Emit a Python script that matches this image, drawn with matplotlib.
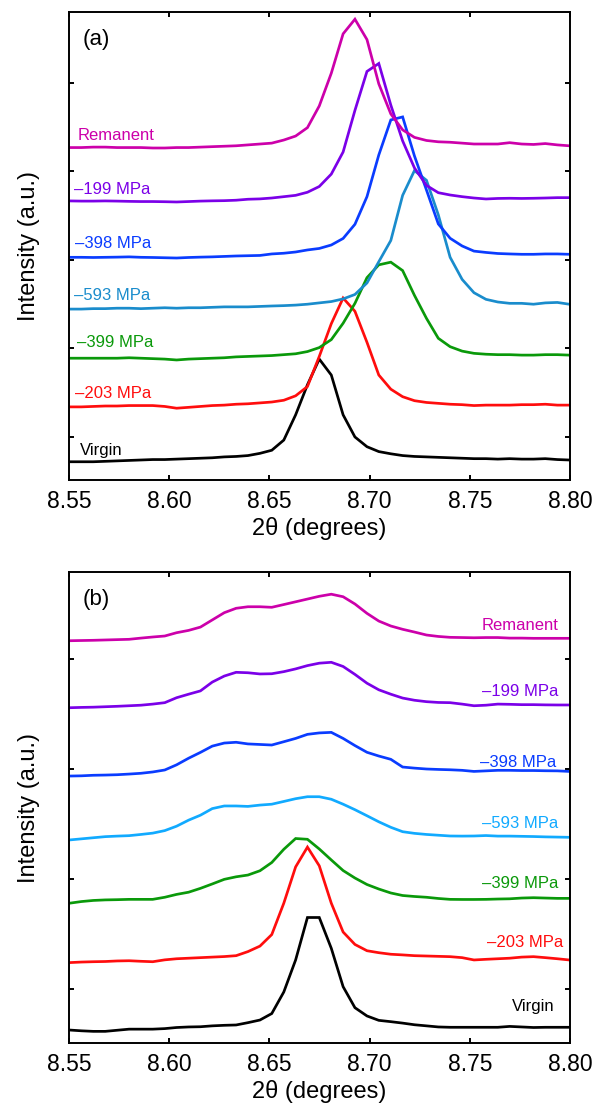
import matplotlib
matplotlib.use("Agg")
import matplotlib.pyplot as plt

plt.rcParams['font.family'] = ['Liberation Sans', 'DejaVu Sans']

# 2-theta sampling grid (degrees)
two_theta = [8.5443, 8.5503, 8.5562, 8.5621, 8.5681, 8.5740, 8.5800, 8.5859, 8.5918,
             8.5978, 8.6037, 8.6097, 8.6156, 8.6215, 8.6275, 8.6334, 8.6393, 8.6453,
             8.6512, 8.6572, 8.6631, 8.6690, 8.6749, 8.6809, 8.6868, 8.6927, 8.6987,
             8.7046, 8.7106, 8.7165, 8.7224, 8.7284, 8.7343, 8.7402, 8.7462, 8.7521,
             8.7581, 8.7640, 8.7699, 8.7759, 8.7818, 8.7877, 8.7937, 8.7996, 8.8056]

labels = ['Virgin', '\u2013203 MPa', '\u2013399 MPa', '\u2013593 MPa',
          '\u2013398 MPa', '\u2013199 MPa', 'Remanent']

# panel (a), offset intensities (a.u.)
virgin_a = [0.72, 0.72, 0.72, 0.72, 0.725, 0.73, 0.735, 0.74, 0.745, 0.745, 0.75, 0.755,
            0.76, 0.765, 0.775, 0.78, 0.79, 0.815, 0.85, 0.965, 1.25, 1.59, 1.88, 1.70,
            1.25, 1.00, 0.89, 0.835, 0.81, 0.79, 0.78, 0.775, 0.77, 0.765, 0.76, 0.755,
            0.755, 0.75, 0.755, 0.75, 0.75, 0.755, 0.745, 0.74, 0.74]
m203_a = [1.34, 1.34, 1.34, 1.345, 1.35, 1.35, 1.355, 1.355, 1.355, 1.345, 1.325, 1.335,
          1.345, 1.355, 1.36, 1.37, 1.375, 1.385, 1.395, 1.415, 1.465, 1.57, 1.91, 2.28,
          2.57, 2.42, 2.07, 1.70, 1.54, 1.455, 1.41, 1.39, 1.38, 1.37, 1.365, 1.355,
          1.36, 1.36, 1.36, 1.365, 1.365, 1.37, 1.36, 1.36, 1.36]
m399_a = [1.89, 1.89, 1.89, 1.89, 1.89, 1.89, 1.895, 1.89, 1.885, 1.88, 1.87, 1.88,
          1.885, 1.89, 1.895, 1.905, 1.91, 1.915, 1.92, 1.93, 1.94, 1.965, 2.01, 2.10,
          2.285, 2.51, 2.80, 2.945, 2.975, 2.88, 2.60, 2.34, 2.115, 2.02, 1.97, 1.945,
          1.935, 1.93, 1.93, 1.925, 1.925, 1.93, 1.93, 1.925, 1.925]
m593_a = [2.445, 2.445, 2.445, 2.45, 2.45, 2.455, 2.455, 2.45, 2.455, 2.46, 2.455, 2.46,
          2.46, 2.465, 2.47, 2.47, 2.47, 2.475, 2.48, 2.484, 2.49, 2.50, 2.515, 2.53,
          2.56, 2.61, 2.74, 2.98, 3.22, 3.73, 4.01, 3.90, 3.51, 3.03, 2.78, 2.63,
          2.555, 2.525, 2.51, 2.51, 2.50, 2.515, 2.52, 2.50, 2.50]
m398_a = [3.03, 3.03, 3.03, 3.028, 3.03, 3.032, 3.035, 3.03, 3.028, 3.025, 3.022, 3.028,
          3.032, 3.035, 3.04, 3.045, 3.048, 3.051, 3.068, 3.076, 3.09, 3.113, 3.13, 3.169,
          3.243, 3.403, 3.715, 4.186, 4.582, 4.616, 4.175, 3.79, 3.407, 3.245, 3.158, 3.10,
          3.085, 3.073, 3.068, 3.064, 3.064, 3.068, 3.068, 3.064, 3.064]
m199_a = [3.667, 3.667, 3.665, 3.665, 3.667, 3.665, 3.662, 3.66, 3.66, 3.658, 3.655, 3.66,
          3.665, 3.668, 3.67, 3.675, 3.686, 3.69, 3.70, 3.715, 3.73, 3.765, 3.83, 3.97,
          4.22, 4.69, 5.13, 5.22, 4.75, 4.345, 4.04, 3.842, 3.76, 3.734, 3.715, 3.70,
          3.689, 3.695, 3.697, 3.695, 3.697, 3.70, 3.704, 3.704, 3.704]
remanent_a = [4.275, 4.27, 4.27, 4.275, 4.275, 4.27, 4.27, 4.27, 4.265, 4.265, 4.27, 4.27,
              4.275, 4.28, 4.285, 4.29, 4.30, 4.31, 4.32, 4.355, 4.40, 4.495, 4.74, 5.11,
              5.555, 5.72, 5.49, 4.99, 4.65, 4.47, 4.385, 4.35, 4.335, 4.33, 4.32, 4.31,
              4.31, 4.31, 4.325, 4.31, 4.305, 4.315, 4.30, 4.29, 4.29]

# panel (b)
virgin_b = [0.625, 0.627, 0.62, 0.615, 0.615, 0.625, 0.635, 0.635, 0.635, 0.64, 0.65, 0.655,
            0.657, 0.665, 0.67, 0.673, 0.694, 0.718, 0.777, 0.973, 1.264, 1.65, 1.65, 1.37,
            1.021, 0.83, 0.755, 0.715, 0.703, 0.69, 0.675, 0.665, 0.655, 0.652, 0.652, 0.652,
            0.652, 0.652, 0.66, 0.655, 0.65, 0.652, 0.652, 0.652, 0.652]
m203_b = [1.24, 1.24, 1.245, 1.248, 1.25, 1.255, 1.257, 1.252, 1.248, 1.265, 1.275, 1.28,
          1.285, 1.29, 1.295, 1.303, 1.34, 1.39, 1.495, 1.78, 2.11, 2.29, 2.12, 1.78,
          1.518, 1.405, 1.348, 1.33, 1.316, 1.31, 1.303, 1.30, 1.297, 1.294, 1.285, 1.264,
          1.27, 1.275, 1.28, 1.29, 1.294, 1.285, 1.275, 1.264, 1.264]
m399_b = [1.78, 1.78, 1.795, 1.805, 1.81, 1.812, 1.815, 1.815, 1.815, 1.834, 1.86, 1.88,
          1.915, 1.955, 1.997, 2.02, 2.036, 2.075, 2.15, 2.27, 2.368, 2.361, 2.273, 2.173,
          2.077, 2.009, 1.95, 1.909, 1.873, 1.85, 1.841, 1.834, 1.823, 1.815, 1.814, 1.814,
          1.815, 1.818, 1.82, 1.827, 1.83, 1.827, 1.824, 1.824, 1.824]
m593_b = [2.355, 2.355, 2.365, 2.375, 2.385, 2.39, 2.394, 2.405, 2.417, 2.44, 2.48, 2.535,
          2.58, 2.64, 2.664, 2.664, 2.66, 2.672, 2.68, 2.705, 2.73, 2.748, 2.748, 2.725,
          2.68, 2.63, 2.575, 2.52, 2.47, 2.43, 2.415, 2.405, 2.398, 2.391, 2.39, 2.391,
          2.395, 2.39, 2.39, 2.388, 2.386, 2.383, 2.381, 2.379, 2.379]
m398_b = [2.936, 2.936, 2.938, 2.943, 2.945, 2.948, 2.954, 2.961, 2.973, 2.991, 3.038, 3.098,
          3.151, 3.208, 3.236, 3.243, 3.228, 3.223, 3.218, 3.248, 3.278, 3.315, 3.328, 3.333,
          3.278, 3.213, 3.152, 3.118, 3.088, 3.018, 3.008, 3.0, 2.996, 2.993, 2.988, 2.978,
          2.983, 2.988, 2.988, 2.986, 2.986, 2.984, 2.983, 2.978, 2.978]
m199_b = [3.557, 3.557, 3.56, 3.562, 3.566, 3.57, 3.575, 3.58, 3.59, 3.603, 3.648, 3.68,
          3.71, 3.79, 3.845, 3.879, 3.875, 3.864, 3.866, 3.885, 3.91, 3.94, 3.962, 3.97,
          3.932, 3.86, 3.78, 3.72, 3.68, 3.645, 3.625, 3.612, 3.605, 3.603, 3.59, 3.575,
          3.58, 3.59, 3.588, 3.585, 3.585, 3.583, 3.582, 3.582, 3.582]
remanent_b = [4.166, 4.166, 4.168, 4.17, 4.173, 4.176, 4.179, 4.19, 4.2, 4.209, 4.239, 4.26,
              4.29, 4.355, 4.421, 4.461, 4.475, 4.475, 4.47, 4.495, 4.52, 4.545, 4.57, 4.589,
              4.566, 4.50, 4.415, 4.345, 4.30, 4.27, 4.245, 4.218, 4.205, 4.197, 4.195, 4.193,
              4.195, 4.195, 4.19, 4.19, 4.188, 4.188, 4.188, 4.188, 4.188]

colors_a = ['black', '#ff0d0d', '#0a990a', '#1a8ccc', '#0a3cff', '#7b00e8', '#cc00aa']
colors_b = ['black', '#ff0d0d', '#0a990a', '#11aaff', '#0a3cff', '#7b00e8', '#cc00aa']

# label baselines (same units as curves)
label_y_a = [0.797, 1.437, 2.02, 2.548, 3.136, 3.742, 4.356]
label_x_a = [8.5555, 8.553, 8.554, 8.5525, 8.553, 8.5525, 8.5543]
label_y_b = [0.80, 1.379, 1.915, 2.461, 3.021, 3.666, 4.264]
label_x_b = [8.7925, 8.7967, 8.7942, 8.7942, 8.7934, 8.7942, 8.7942]

fig = plt.figure(figsize=(6.05, 11.07), dpi=100)
ax_a = fig.add_axes([0.1140, 0.5664, 0.8281, 0.4228])
ax_b = fig.add_axes([0.1140, 0.0578, 0.8281, 0.4255])

panels = [
    (ax_a, [virgin_a, m203_a, m399_a, m593_a, m398_a, m199_a, remanent_a], colors_a,
     label_x_a, label_y_a, 'left', (0.514, 5.802), [1, 2, 3, 4, 5], '(a)'),
    (ax_b, [virgin_b, m203_b, m399_b, m593_b, m398_b, m199_b, remanent_b], colors_b,
     label_x_b, label_y_b, 'right', (0.509, 4.791), [1, 2, 3, 4], '(b)'),
]

for ax, series, cols, lx, ly, ha, ylim, yticks, tag in panels:
    for y, c, lab, tx, ty in zip(series, cols, labels, lx, ly):
        ax.plot(two_theta, y, color=c, lw=1.95, solid_joinstyle='miter')
        ax.text(tx, ty, lab, color=c, fontsize=12, ha=ha, va='baseline')
    ax.set_xlim(8.55, 8.80)
    ax.set_ylim(*ylim)
    ax.set_xticks([8.55, 8.60, 8.65, 8.70, 8.75, 8.80])
    ax.set_xticklabels(['8.55', '8.60', '8.65', '8.70', '8.75', '8.80'])
    ax.set_yticks(yticks)
    ax.set_yticklabels([])
    ax.tick_params(direction='in', top=True, right=True, length=3.6, width=1.4,
                   labelsize=16.5, pad=7)
    for sp in ax.spines.values():
        sp.set_linewidth(1.4)
    ax.set_xlabel('2\u03b8 (degrees)', fontsize=17)
    ax.set_ylabel('Intensity (a.u.)', fontsize=17)
    ax.xaxis.set_label_coords(0.5, -0.078)
    ax.yaxis.set_label_coords(-0.058, 0.5)
    ax.text(0.028, 0.942, tag, transform=ax.transAxes, fontsize=16, va='center', ha='left')

fig.savefig('out.png', dpi=100)
